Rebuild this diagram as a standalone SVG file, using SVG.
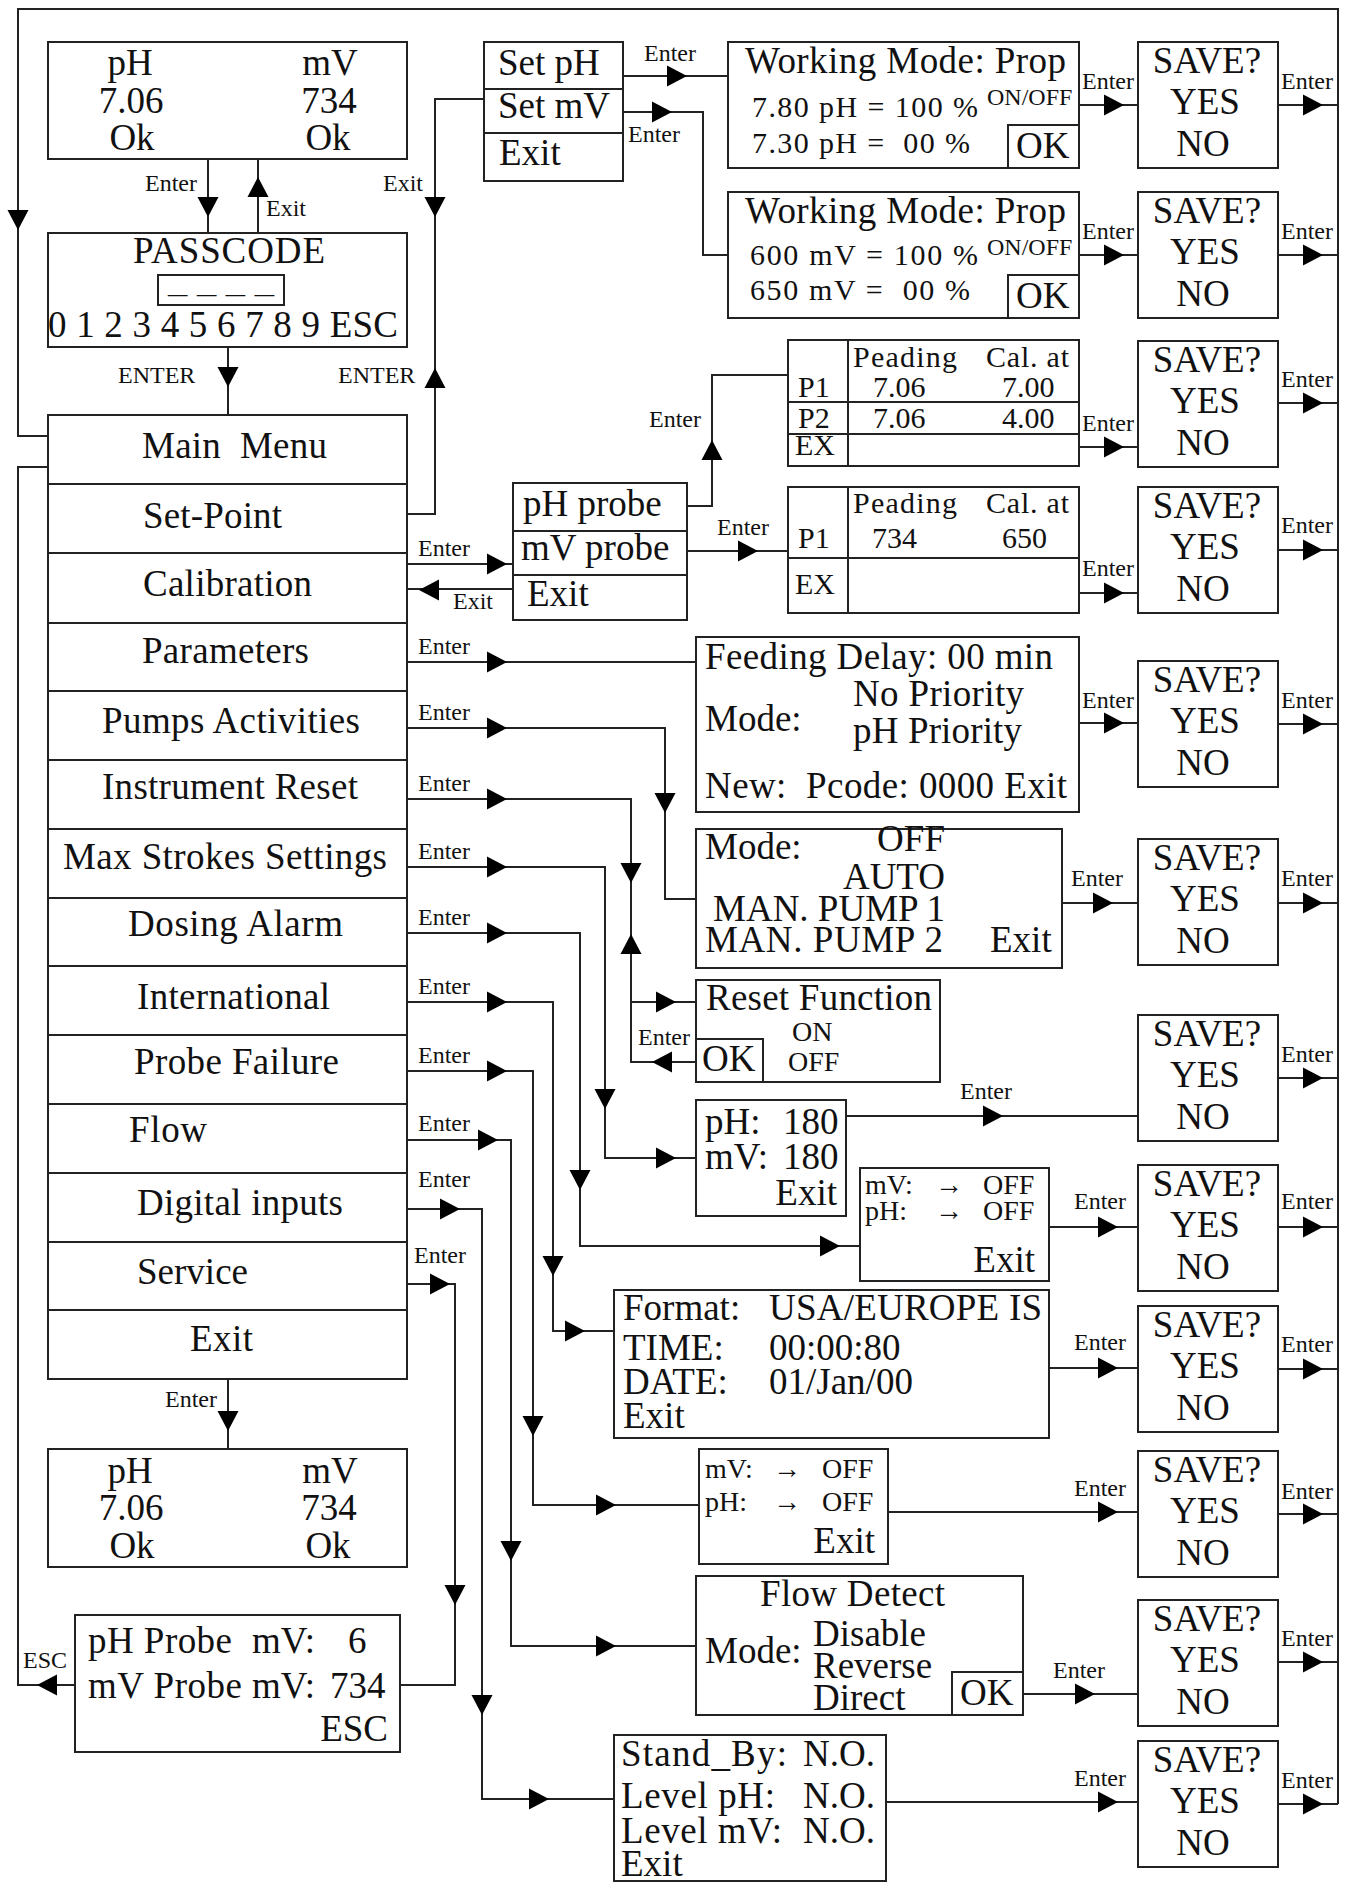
<svg xmlns="http://www.w3.org/2000/svg" width="1351" height="1883" viewBox="0 0 1351 1883" xml:space="preserve">
<style>
text{font-family:"Liberation Serif","Times New Roman",serif;fill:#111;white-space:pre}
.t{font-size:37px}
.s{font-size:24px}
.m{font-size:30px}
.k{font-size:28px}
.b{fill:#fff;stroke:#222;stroke-width:2}
.n{fill:none;stroke:#222;stroke-width:2}
.l{fill:none;stroke:#222;stroke-width:2}
.c{text-anchor:middle}
.e{text-anchor:end}
.h{fill:#000}
</style>
<defs>
<path id="a" d="M0,0 L-20,-10.5 L-20,10.5 Z"/>
</defs>
<rect width="1351" height="1883" fill="#fff"/>

<g id="connectors">
<path class="l" d="M48,436 H18 V9 H1338 V1804 M48,467 H18 V1685 H75"/>
<path class="l" d="M208,159 V233 M258,159 V233 M228,347 V415 M228,1379 V1449"/>
<path class="l" d="M407,514 H435 V99 H484"/>
<path class="l" d="M623,76 H728 M623,112 H703 V255 H728"/>
<path class="l" d="M1079,105 H1138 M1079,255 H1138 M1079,447 H1138 M1079,593 H1138 M1079,723 H1138 M1062,903 H1138 M846,1116 H1138 M1049,1227 H1138 M1049,1368 H1138 M888,1512 H1138 M1023,1694 H1138 M886,1802 H1138"/>
<path class="l" d="M1278,105 H1338 M1278,255 H1338 M1278,403 H1338 M1278,550 H1338 M1278,724 H1338 M1278,903 H1338 M1278,1078 H1338 M1278,1227 H1338 M1278,1369 H1338 M1278,1514 H1338 M1278,1662 H1338 M1278,1804 H1338"/>
<path class="l" d="M687,506 H712 V375 H788 M407,564 H513 M513,589 H407 M687,551 H788"/>
<path class="l" d="M407,662 H696 M407,728 H665 V899 H696 M407,799 H631 V1062 H696 M631,1002 H696 M407,867 H605 V1158 H696 M407,933 H580 V1246 H860 M407,1002 H553 V1331 H614 M407,1071 H533 V1505 H699 M407,1140 H511 V1646 H696 M407,1209 H482 V1799 H614 M407,1284 H455 V1685 H400"/>
<g class="h">
<use href="#a" transform="translate(18,230) rotate(90)"/>
<use href="#a" transform="translate(208,217) rotate(90)"/>
<use href="#a" transform="translate(258,177) rotate(-90)"/>
<use href="#a" transform="translate(435,217) rotate(90)"/>
<use href="#a" transform="translate(435,368) rotate(-90)"/>
<use href="#a" transform="translate(228,387) rotate(90)"/>
<use href="#a" transform="translate(228,1431) rotate(90)"/>
<use href="#a" transform="translate(687,76)"/>
<use href="#a" transform="translate(672,112)"/>
<use href="#a" transform="translate(712,440) rotate(-90)"/>
<use href="#a" transform="translate(507,564)"/>
<use href="#a" transform="translate(419,590) rotate(180)"/>
<use href="#a" transform="translate(758,551)"/>
<use href="#a" transform="translate(1124,105)"/>
<use href="#a" transform="translate(1124,255)"/>
<use href="#a" transform="translate(1124,447)"/>
<use href="#a" transform="translate(1124,593)"/>
<use href="#a" transform="translate(1124,723)"/>
<use href="#a" transform="translate(1113,903)"/>
<use href="#a" transform="translate(1003,1116)"/>
<use href="#a" transform="translate(1118,1227)"/>
<use href="#a" transform="translate(1118,1368)"/>
<use href="#a" transform="translate(1118,1512)"/>
<use href="#a" transform="translate(1095,1694)"/>
<use href="#a" transform="translate(1118,1802)"/>
<use href="#a" transform="translate(1323,105)"/>
<use href="#a" transform="translate(1323,255)"/>
<use href="#a" transform="translate(1323,403)"/>
<use href="#a" transform="translate(1323,550)"/>
<use href="#a" transform="translate(1323,724)"/>
<use href="#a" transform="translate(1323,903)"/>
<use href="#a" transform="translate(1323,1078)"/>
<use href="#a" transform="translate(1323,1227)"/>
<use href="#a" transform="translate(1323,1369)"/>
<use href="#a" transform="translate(1323,1514)"/>
<use href="#a" transform="translate(1323,1662)"/>
<use href="#a" transform="translate(1323,1804)"/>
<use href="#a" transform="translate(507,662)"/>
<use href="#a" transform="translate(507,728)"/>
<use href="#a" transform="translate(665,813) rotate(90)"/>
<use href="#a" transform="translate(507,799)"/>
<use href="#a" transform="translate(631,883) rotate(90)"/>
<use href="#a" transform="translate(631,934) rotate(-90)"/>
<use href="#a" transform="translate(676,1002)"/>
<use href="#a" transform="translate(652,1062) rotate(180)"/>
<use href="#a" transform="translate(507,867)"/>
<use href="#a" transform="translate(605,1109) rotate(90)"/>
<use href="#a" transform="translate(676,1158)"/>
<use href="#a" transform="translate(507,933)"/>
<use href="#a" transform="translate(580,1190) rotate(90)"/>
<use href="#a" transform="translate(840,1246)"/>
<use href="#a" transform="translate(507,1002)"/>
<use href="#a" transform="translate(553,1276) rotate(90)"/>
<use href="#a" transform="translate(585,1331)"/>
<use href="#a" transform="translate(507,1071)"/>
<use href="#a" transform="translate(533,1436) rotate(90)"/>
<use href="#a" transform="translate(616,1505)"/>
<use href="#a" transform="translate(498,1140)"/>
<use href="#a" transform="translate(511,1561) rotate(90)"/>
<use href="#a" transform="translate(616,1646)"/>
<use href="#a" transform="translate(460,1209)"/>
<use href="#a" transform="translate(482,1715) rotate(90)"/>
<use href="#a" transform="translate(549,1799)"/>
<use href="#a" transform="translate(450,1284)"/>
<use href="#a" transform="translate(455,1605) rotate(90)"/>
<use href="#a" transform="translate(37,1685) rotate(180)"/>
</g>
<g class="s">
<text x="145" y="191">Enter</text>
<text x="266" y="216">Exit</text>
<text x="383" y="191">Exit</text>
<text x="118" y="383">ENTER</text>
<text x="338" y="383">ENTER</text>
<text x="644" y="61">Enter</text>
<text x="628" y="142">Enter</text>
<text x="649" y="427">Enter</text>
<text x="418" y="556">Enter</text>
<text x="453" y="609">Exit</text>
<text x="717" y="535">Enter</text>
<text x="418" y="654">Enter</text>
<text x="418" y="720">Enter</text>
<text x="418" y="791">Enter</text>
<text x="418" y="859">Enter</text>
<text x="418" y="925">Enter</text>
<text x="418" y="994">Enter</text>
<text x="418" y="1063">Enter</text>
<text x="418" y="1131">Enter</text>
<text x="418" y="1187">Enter</text>
<text x="414" y="1263">Enter</text>
<text x="638" y="1045">Enter</text>
<text x="165" y="1407">Enter</text>
<text x="23" y="1668">ESC</text>
<text x="1082" y="89">Enter</text>
<text x="1082" y="239">Enter</text>
<text x="1082" y="431">Enter</text>
<text x="1082" y="576">Enter</text>
<text x="1082" y="708">Enter</text>
<text x="1071" y="886">Enter</text>
<text x="960" y="1099">Enter</text>
<text x="1074" y="1209">Enter</text>
<text x="1074" y="1350">Enter</text>
<text x="1074" y="1496">Enter</text>
<text x="1053" y="1678">Enter</text>
<text x="1074" y="1786">Enter</text>
<text x="1281" y="89">Enter</text>
<text x="1281" y="239">Enter</text>
<text x="1281" y="387">Enter</text>
<text x="1281" y="533">Enter</text>
<text x="1281" y="708">Enter</text>
<text x="1281" y="886">Enter</text>
<text x="1281" y="1062">Enter</text>
<text x="1281" y="1209">Enter</text>
<text x="1281" y="1352">Enter</text>
<text x="1281" y="1499">Enter</text>
<text x="1281" y="1646">Enter</text>
<text x="1281" y="1788">Enter</text>
</g>
</g>

<g id="display-top">
<rect class="b" x="48" y="42" width="359" height="117"/>
<g class="t c">
<text x="130" y="75">pH</text><text x="330" y="75">mV</text>
<text x="131" y="113">7.06</text><text x="329" y="113">734</text>
<text x="132" y="150">Ok</text><text x="328" y="150">Ok</text>
</g>
</g>

<g id="passcode">
<rect class="b" x="48" y="233" width="359" height="114"/>
<text class="t" x="133" y="263" textLength="192">PASSCODE</text>
<rect class="n" x="158" y="275" width="126" height="30"/>
<text x="168" y="293" style="font-size:20px" textLength="106" lengthAdjust="spacingAndGlyphs">_ _ _ _</text>
<text class="t" x="48" y="337" textLength="350">0 1 2 3 4 5 6 7 8 9 ESC</text>
</g>

<g id="main-menu">
<rect class="b" x="48" y="415" width="359" height="964"/>
<path class="l" d="M48,484 H407 M48,553 H407 M48,623 H407 M48,691 H407 M48,760 H407 M48,829 H407 M48,898 H407 M48,966 H407 M48,1035 H407 M48,1104 H407 M48,1173 H407 M48,1242 H407 M48,1310 H407"/>
<g class="t">
<text x="142" y="458" textLength="185">Main  Menu</text>
<text x="143" y="528" textLength="139">Set-Point</text>
<text x="143" y="596" textLength="169">Calibration</text>
<text x="142" y="663" textLength="167">Parameters</text>
<text x="102" y="733" textLength="258">Pumps Activities</text>
<text x="102" y="799" textLength="256">Instrument Reset</text>
<text x="63" y="869" textLength="324">Max Strokes Settings</text>
<text x="128" y="936" textLength="215">Dosing Alarm</text>
<text x="137" y="1009" textLength="193">International</text>
<text x="134" y="1074" textLength="205">Probe Failure</text>
<text x="129" y="1142" textLength="78">Flow</text>
<text x="137" y="1215" textLength="206">Digital inputs</text>
<text x="137" y="1284" textLength="111">Service</text>
<text x="190" y="1351" textLength="63">Exit</text>
</g>
</g>

<g id="display-bottom">
<rect class="b" x="48" y="1449" width="359" height="118"/>
<g class="t c">
<text x="130" y="1483">pH</text><text x="330" y="1483">mV</text>
<text x="131" y="1520">7.06</text><text x="329" y="1520">734</text>
<text x="132" y="1558">Ok</text><text x="328" y="1558">Ok</text>
</g>
</g>

<g id="probe-mv">
<rect class="b" x="75" y="1615" width="325" height="137"/>
<g class="t">
<text x="88" y="1653" textLength="144">pH Probe</text><text x="252" y="1653">mV:</text><text x="348" y="1653">6</text>
<text x="88" y="1698" textLength="154">mV Probe</text><text x="252" y="1698">mV:</text><text x="330" y="1698">734</text>
<text class="e" x="388" y="1741">ESC</text>
</g>
</g>

<g id="setpoint-menu">
<rect class="b" x="484" y="42" width="139" height="139"/>
<path class="l" d="M484,89 H623 M484,133 H623"/>
<g class="t">
<text x="498" y="75">Set pH</text>
<text x="498" y="118">Set mV</text>
<text x="499" y="165">Exit</text>
</g>
</g>

<g id="working-mode-ph">
<rect class="b" x="728" y="42" width="351" height="126"/>
<rect class="n" x="1008" y="125" width="71" height="43"/>
<text class="t" x="745" y="73" textLength="321">Working Mode: Prop</text>
<text class="m" x="752" y="117" textLength="226">7.80 pH = 100 %</text>
<text class="m" x="752" y="153" textLength="218">7.30 pH =  00 %</text>
<text class="s" x="987" y="105">ON/OFF</text>
<text class="t" x="1016" y="158">OK</text>
</g>

<g id="working-mode-mv">
<rect class="b" x="728" y="192" width="351" height="126"/>
<rect class="n" x="1008" y="275" width="71" height="43"/>
<text class="t" x="745" y="223" textLength="321">Working Mode: Prop</text>
<text class="m" x="750" y="265" textLength="228">600 mV = 100 %</text>
<text class="m" x="750" y="300" textLength="220">650 mV =  00 %</text>
<text class="s" x="987" y="255">ON/OFF</text>
<text class="t" x="1016" y="308">OK</text>
</g>

<g id="probe-menu">
<rect class="b" x="513" y="483" width="174" height="137"/>
<path class="l" d="M513,531 H687 M513,575 H687"/>
<g class="t">
<text x="523" y="516">pH probe</text>
<text x="521" y="560">mV probe</text>
<text x="527" y="606">Exit</text>
</g>
</g>

<g id="cal-ph">
<rect class="b" x="788" y="340" width="291" height="126"/>
<path class="l" d="M848,340 V466 M788,402 H1079 M788,434 H1079"/>
<g class="m">
<text x="853" y="367" textLength="104">Peading</text><text x="986" y="367" textLength="83">Cal. at</text>
<text x="798" y="397">P1</text><text x="873" y="397">7.06</text><text x="1002" y="397">7.00</text>
<text x="798" y="428">P2</text><text x="873" y="428">7.06</text><text x="1002" y="428">4.00</text>
<text x="795" y="455">EX</text>
</g>
</g>

<g id="cal-mv">
<rect class="b" x="788" y="487" width="291" height="126"/>
<path class="l" d="M848,487 V613 M788,558 H1079"/>
<g class="m">
<text x="853" y="513" textLength="104">Peading</text><text x="986" y="513" textLength="83">Cal. at</text>
<text x="798" y="548">P1</text><text x="872" y="548">734</text><text x="1002" y="548">650</text>
<text x="795" y="594">EX</text>
</g>
</g>

<g id="parameters">
<rect class="b" x="696" y="637" width="383" height="175"/>
<g class="t">
<text x="705" y="669" textLength="348">Feeding Delay: 00 min</text>
<text x="705" y="731">Mode:</text>
<text x="853" y="706" textLength="171">No Priority</text>
<text x="853" y="743" textLength="169">pH Priority</text>
<text x="705" y="798" textLength="362">New:  Pcode: 0000 Exit</text>
</g>
</g>

<g id="pumps">
<rect class="b" x="696" y="829" width="366" height="139"/>
<g class="t">
<text x="705" y="859">Mode:</text>
<text class="e" x="945" y="851">OFF</text>
<text class="e" x="945" y="889">AUTO</text>
<text x="713" y="921" textLength="232">MAN. PUMP 1</text>
<text x="705" y="952" textLength="238">MAN. PUMP 2</text>
<text x="990" y="952">Exit</text>
</g>
</g>

<g id="reset-function">
<rect class="b" x="696" y="980" width="244" height="102"/>
<rect class="n" x="696" y="1039" width="67" height="43"/>
<text class="t" x="706" y="1010" textLength="226">Reset Function</text>
<text class="k" x="792" y="1041">ON</text>
<text class="k" x="788" y="1071">OFF</text>
<text class="t" x="702" y="1071">OK</text>
</g>

<g id="max-strokes">
<rect class="b" x="696" y="1100" width="150" height="116"/>
<g class="t">
<text x="705" y="1134">pH:</text><text x="783" y="1134">180</text>
<text x="705" y="1169">mV:</text><text x="783" y="1169">180</text>
<text class="e" x="837" y="1205">Exit</text>
</g>
</g>

<g id="dosing-alarm">
<rect class="b" x="860" y="1168" width="189" height="113"/>
<g class="k">
<text x="865" y="1194">mV:</text><text x="935" y="1194">→</text><text x="983" y="1194">OFF</text>
<text x="865" y="1220">pH:</text><text x="935" y="1220">→</text><text x="983" y="1220">OFF</text>
</g>
<text class="t e" x="1035" y="1272">Exit</text>
</g>

<g id="international">
<rect class="b" x="614" y="1290" width="435" height="148"/>
<g class="t">
<text x="623" y="1320">Format:</text><text x="769" y="1320" textLength="273">USA/EUROPE IS</text>
<text x="623" y="1360">TIME:</text><text x="769" y="1360">00:00:80</text>
<text x="623" y="1394">DATE:</text><text x="769" y="1394">01/Jan/00</text>
<text x="623" y="1428">Exit</text>
</g>
</g>

<g id="probe-failure">
<rect class="b" x="699" y="1449" width="189" height="115"/>
<g class="k">
<text x="705" y="1478">mV:</text><text x="773" y="1478">→</text><text x="822" y="1478">OFF</text>
<text x="705" y="1511">pH:</text><text x="773" y="1511">→</text><text x="822" y="1511">OFF</text>
</g>
<text class="t e" x="875" y="1553">Exit</text>
</g>

<g id="flow">
<rect class="b" x="696" y="1576" width="327" height="139"/>
<rect class="n" x="952" y="1672" width="71" height="43"/>
<g class="t">
<text x="760" y="1606" textLength="185">Flow Detect</text>
<text x="705" y="1663">Mode:</text>
<text x="813" y="1646">Disable</text>
<text x="813" y="1678">Reverse</text>
<text x="813" y="1710">Direct</text>
<text x="960" y="1705">OK</text>
</g>
</g>

<g id="digital-inputs">
<rect class="b" x="614" y="1735" width="272" height="146"/>
<g class="t">
<text x="621" y="1766" textLength="166">Stand_By:</text><text x="803" y="1766">N.O.</text>
<text x="621" y="1808" textLength="154">Level pH:</text><text x="803" y="1808">N.O.</text>
<text x="621" y="1843" textLength="161">Level mV:</text><text x="803" y="1843">N.O.</text>
<text x="621" y="1876">Exit</text>
</g>
</g>

<g id="save-1"><rect class="b" x="1138" y="42" width="140" height="126"/><g class="t c"><text x="1207" y="73">SAVE?</text><text x="1205" y="114">YES</text><text x="1203" y="156">NO</text></g></g>
<g id="save-2"><rect class="b" x="1138" y="192" width="140" height="126"/><g class="t c"><text x="1207" y="223">SAVE?</text><text x="1205" y="264">YES</text><text x="1203" y="306">NO</text></g></g>
<g id="save-3"><rect class="b" x="1138" y="341" width="140" height="126"/><g class="t c"><text x="1207" y="372">SAVE?</text><text x="1205" y="413">YES</text><text x="1203" y="455">NO</text></g></g>
<g id="save-4"><rect class="b" x="1138" y="487" width="140" height="126"/><g class="t c"><text x="1207" y="518">SAVE?</text><text x="1205" y="559">YES</text><text x="1203" y="601">NO</text></g></g>
<g id="save-5"><rect class="b" x="1138" y="661" width="140" height="126"/><g class="t c"><text x="1207" y="692">SAVE?</text><text x="1205" y="733">YES</text><text x="1203" y="775">NO</text></g></g>
<g id="save-6"><rect class="b" x="1138" y="839" width="140" height="126"/><g class="t c"><text x="1207" y="870">SAVE?</text><text x="1205" y="911">YES</text><text x="1203" y="953">NO</text></g></g>
<g id="save-7"><rect class="b" x="1138" y="1015" width="140" height="126"/><g class="t c"><text x="1207" y="1046">SAVE?</text><text x="1205" y="1087">YES</text><text x="1203" y="1129">NO</text></g></g>
<g id="save-8"><rect class="b" x="1138" y="1165" width="140" height="126"/><g class="t c"><text x="1207" y="1196">SAVE?</text><text x="1205" y="1237">YES</text><text x="1203" y="1279">NO</text></g></g>
<g id="save-9"><rect class="b" x="1138" y="1306" width="140" height="126"/><g class="t c"><text x="1207" y="1337">SAVE?</text><text x="1205" y="1378">YES</text><text x="1203" y="1420">NO</text></g></g>
<g id="save-10"><rect class="b" x="1138" y="1451" width="140" height="126"/><g class="t c"><text x="1207" y="1482">SAVE?</text><text x="1205" y="1523">YES</text><text x="1203" y="1565">NO</text></g></g>
<g id="save-11"><rect class="b" x="1138" y="1600" width="140" height="126"/><g class="t c"><text x="1207" y="1631">SAVE?</text><text x="1205" y="1672">YES</text><text x="1203" y="1714">NO</text></g></g>
<g id="save-12"><rect class="b" x="1138" y="1741" width="140" height="126"/><g class="t c"><text x="1207" y="1772">SAVE?</text><text x="1205" y="1813">YES</text><text x="1203" y="1855">NO</text></g></g>
</svg>
